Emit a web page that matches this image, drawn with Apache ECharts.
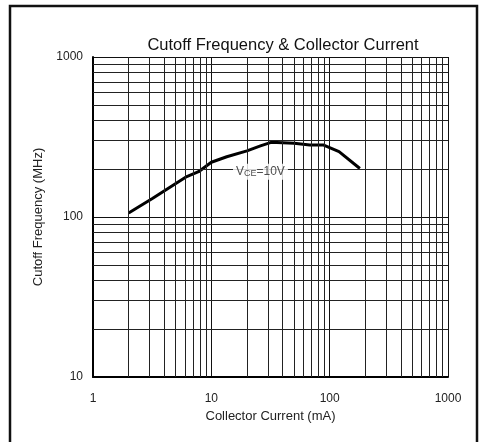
<!DOCTYPE html>
<html>
<head>
<meta charset="utf-8">
<script src="https://cdn.jsdelivr.net/npm/echarts@6/dist/echarts.min.js"></script>
<style>
html,body{margin:0;padding:0;background:#fff;}
#c{width:480px;height:442px;}
</style>
</head>
<body>
<div id="c"></div>
<script>
// Data
var current_mA = [2, 3.2, 6.2, 7.8, 10, 13.5, 20, 26, 32, 50, 68, 88, 120, 180];
var cutoff_MHz = [106, 131, 179, 192, 220, 238, 259, 278, 293, 289, 282, 282, 256, 201];
var gridLinesX = [2,3,4,5,6,7,8,9,20,30,40,50,60,70,80,90,200,300,400,500,600,700,800,900];
var gridLinesY = [20,30,40,50,60,70,80,90,200,300,400,500,600,700,800,900];
var labelPoint = [26, 192];

var chart = echarts.init(document.getElementById('c'), null, {renderer: 'canvas'});
var FONT = '"Liberation Sans", Arial, sans-serif';

var markData = [];
gridLinesX.forEach(function (v) { markData.push({xAxis: v}); });
gridLinesY.forEach(function (v) { markData.push({yAxis: v}); });

function plain(v) { return String(Math.round(v)); }

chart.setOption({
  animation: false,
  backgroundColor: '#fff',
  title: {
    text: 'Cutoff Frequency & Collector Current',
    left: 278, top: 32, textAlign: 'center',
    textStyle: {fontFamily: FONT, fontSize: 16.5, fontWeight: 'normal', color: '#111'}
  },
  graphic: [{
    type: 'rect', shape: {x: 10, y: 6, width: 467, height: 460},
    style: {fill: 'none', stroke: '#111', lineWidth: 2.5}, silent: true
  }],
  grid: {left: 93, right: 32, top: 57, bottom: 65, containLabel: false},
  xAxis: {
    type: 'log', logBase: 10, min: 1, max: 1000,
    name: 'Collector Current (mA)', nameLocation: 'middle', nameGap: 30,
    nameTextStyle: {fontFamily: FONT, fontSize: 13, color: '#222'},
    axisLine: {show: true, lineStyle: {color: '#000', width: 2}},
    axisTick: {show: false},
    axisLabel: {fontFamily: FONT, fontSize: 12, color: '#222', margin: 16, formatter: plain},
    splitLine: {show: true, lineStyle: {color: '#111', width: 1}}
  },
  yAxis: {
    type: 'log', logBase: 10, min: 10, max: 1000,
    name: 'Cutoff Frequency (MHz)', nameLocation: 'middle', nameGap: 45,
    nameTextStyle: {fontFamily: FONT, fontSize: 13, color: '#222'},
    axisLine: {show: true, lineStyle: {color: '#000', width: 2}},
    axisTick: {show: false},
    axisLabel: {fontFamily: FONT, fontSize: 12, color: '#222', margin: 10, formatter: plain},
    splitLine: {show: true, lineStyle: {color: '#111', width: 1}}
  },
  series: [
    {
      type: 'line', data: [], z: 1, silent: true,
      markLine: {
        silent: true, symbol: 'none', animation: false,
        label: {show: false},
        lineStyle: {color: '#222', width: 1, type: 'solid'},
        emphasis: {disabled: true},
        data: markData
      }
    },
    {
      type: 'line', z: 3,
      data: current_mA.map(function (x, i) { return [x, cutoff_MHz[i]]; }),
      showSymbol: false, symbol: 'none', smooth: false,
      lineStyle: {color: '#000', width: 3}
    },
    {
      type: 'scatter', zlevel: 1, z: 4, symbolSize: 1, silent: true,
      itemStyle: {color: '#fff'},
      data: [labelPoint],
      label: {
        show: true, position: 'inside',
        formatter: '{a|V}{b|CE}{a|=10V}',
        backgroundColor: '#fff', padding: [2, 3],
        rich: {
          a: {fontFamily: FONT, fontSize: 12, color: '#222'},
          b: {fontFamily: FONT, fontSize: 9, color: '#222', verticalAlign: 'bottom'}
        }
      }
    }
  ]
});
</script>
</body>
</html>
